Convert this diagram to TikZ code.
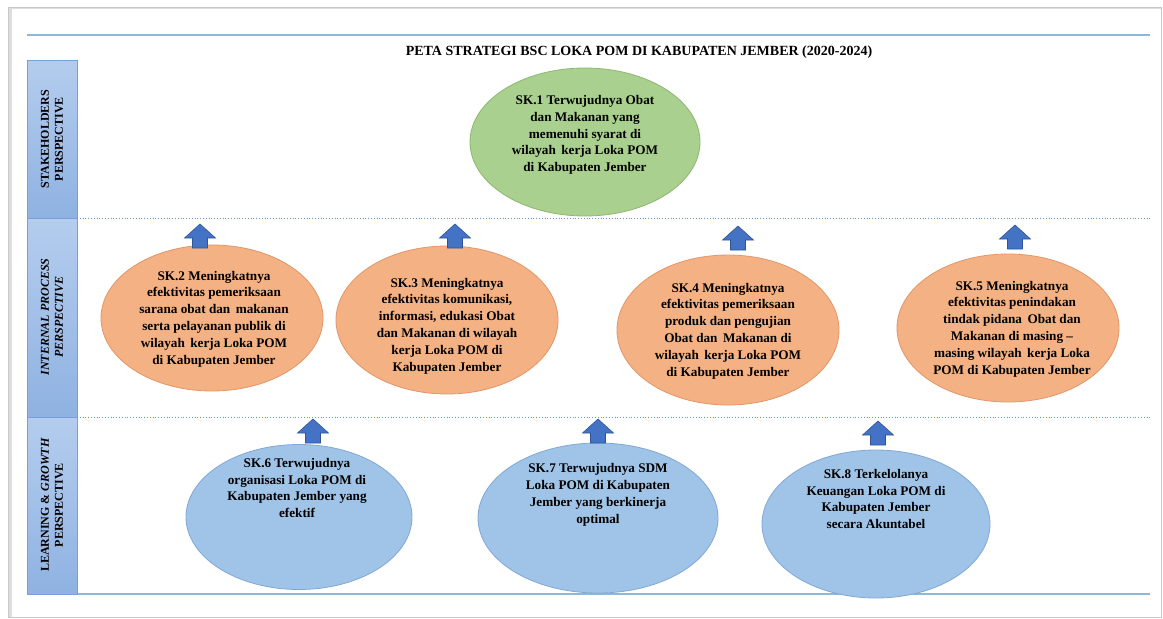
\documentclass[tikz,border=0pt]{standalone}
\usepackage{fontspec}
\setmainfont{Liberation Serif}
\usetikzlibrary{shapes.geometric,calc}
\definecolor{greenfill}{RGB}{169,208,142}
\definecolor{greenline}{RGB}{140,184,112}
\definecolor{orangefill}{RGB}{244,177,131}
\definecolor{orangeline}{RGB}{226,150,104}
\definecolor{bluefill}{RGB}{160,196,231}
\definecolor{blueline}{RGB}{128,168,214}
\definecolor{arrowfill}{RGB}{68,114,196}
\definecolor{arrowline}{RGB}{47,85,151}
\definecolor{bandtop}{RGB}{180,205,238}
\definecolor{bandbot}{RGB}{143,178,226}
\definecolor{bandline}{RGB}{120,160,215}
\definecolor{ruleblue}{RGB}{140,185,215}
\definecolor{dotblue}{RGB}{100,150,210}
\definecolor{framegray}{RGB}{200,200,200}
\tikzset{
  goalgreen/.style={ellipse, draw=greenline, fill=greenfill, line width=0.8pt, inner sep=0pt},
  goalorange/.style={ellipse, draw=orangeline, fill=orangefill, line width=0.8pt, inner sep=0pt},
  goalblue/.style={ellipse, draw=blueline, fill=bluefill, line width=0.8pt, inner sep=0pt},
  goaltext/.style={align=center, font=\bfseries\fontsize{13.2}{16.8}\selectfont, inner sep=0pt},
  bandlabel/.style={align=center, rotate=90, font=\bfseries\fontsize{12}{14}\selectfont, inner sep=0pt},
  bandcell/.style={draw=bandline, line width=0.6pt, top color=bandtop, bottom color=bandbot},
  blockup/.style={fill=arrowfill, draw=arrowline, line width=0.6pt, line join=miter},
  sectionrule/.style={dotblue, line width=0.8pt, dotted},
  mainrule/.style={ruleblue, line width=1.4pt}
}
\newcommand{\upblock}[1]{%
  \draw[blockup] ($(#1)+(-7.5,0)$) -- ($(#1)+(-7.5,-10)$) -- ($(#1)+(-15.5,-10)$) --
    ($(#1)+(0,-24)$) -- ($(#1)+(15.5,-10)$) -- ($(#1)+(7.5,-10)$) -- ($(#1)+(7.5,0)$) -- cycle;}
\begin{document}
\begin{tikzpicture}[x=1pt,y=-1pt]
\useasboundingbox (0,0) rectangle (1163,619);
\fill[white] (0,0) rectangle (1163,619);
% outer frame with soft shadow
\draw[framegray!60, line width=4pt] (10,9) -- (10,617);
\draw[framegray!60, line width=2pt] (8,8) -- (1161,8);
\draw[framegray, line width=1pt] (8,7) rectangle (1161,617);
% rules
\draw[mainrule] (27,35) -- (1150,35);
\draw[mainrule] (27,594) -- (1150,594);
\draw[sectionrule] (77,218) -- (1150,218);
\draw[sectionrule] (77,417) -- (1150,417);
% left band
\draw[bandcell] (27,60) rectangle (77,218);
\draw[bandcell] (27,218) rectangle (77,417);
\draw[bandcell] (27,417) rectangle (77,594);
\node[bandlabel] (b1) at (52,139) {STAKEHOLDERS\\PERSPECTIVE};
\node[bandlabel] (b2) at (52,317) {\itshape INTERNAL PROCESS\\\itshape PERSPECTIVE};
\node[bandlabel] (b3) at (52,505) {LEARNING \& \textit{GROWTH}\\PERSPECTIVE};
% title
\node[font=\bfseries\fontsize{14}{16}\selectfont, inner sep=0pt] (title) at (639,52)
  {PETA STRATEGI BSC LOKA POM DI KABUPATEN JEMBER (2020-2024)};
% ellipses
\node[goalgreen, minimum width=230pt, minimum height=148pt] (e1) at (585,142) {};
\node[goalorange, minimum width=222pt, minimum height=146pt] (e2) at (212,318) {};
\node[goalorange, minimum width=222pt, minimum height=148pt] (e3) at (447,320) {};
\node[goalorange, minimum width=222pt, minimum height=150pt] (e4) at (728,330) {};
\node[goalorange, minimum width=222pt, minimum height=148pt] (e5) at (1008,328) {};
\node[goalblue, minimum width=226pt, minimum height=145pt] (e6) at (299,517) {};
\node[goalblue, minimum width=240pt, minimum height=150pt] (e7) at (598,518) {};
\node[goalblue, minimum width=228pt, minimum height=148pt] (e8) at (876,524) {};
% texts
\node[goaltext] (t1) at (585,135) {SK.1 Terwujudnya Obat\\dan Makanan yang\\memenuhi syarat di\\wilayah\, kerja Loka POM\\di Kabupaten Jember};
\node[goaltext] (t2) at (214,319) {SK.2 Meningkatnya\\efektivitas pemeriksaan\\sarana obat dan\, makanan\\serta pelayanan publik di\\wilayah\, kerja Loka POM\\di Kabupaten Jember};
\node[goaltext] (t3) at (447,326) {SK.3 Meningkatnya\\efektivitas komunikasi,\\informasi, edukasi Obat\\dan Makanan di wilayah\\kerja Loka POM di\\Kabupaten Jember};
\node[goaltext] (t4) at (728,331) {SK.4 Meningkatnya\\efektivitas pemeriksaan\\produk dan pengujian\\Obat dan\, Makanan di\\wilayah\, kerja Loka POM\\di Kabupaten Jember};
\node[goaltext] (t5) at (1012,329) {SK.5 Meningkatnya\\efektivitas penindakan\\tindak pidana\, Obat dan\\Makanan di masing –\\masing wilayah\, kerja Loka\\POM di Kabupaten Jember};
\node[goaltext] (t6) at (297,488) {SK.6 Terwujudnya\\organisasi Loka POM di\\Kabupaten Jember yang\\efektif};
\node[goaltext] (t7) at (598,495) {SK.7 Terwujudnya SDM\\Loka POM di Kabupaten\\Jember yang berkinerja\\optimal};
\node[goaltext] (t8) at (876,499) {SK.8 Terkelolanya\\Keuangan Loka POM di\\Kabupaten Jember\\secara Akuntabel};
% block arrows
\coordinate (a1) at (200,248);
\coordinate (a2) at (455,248);
\coordinate (a3) at (738,250);
\coordinate (a4) at (1015,249);
\coordinate (a5) at (313,443);
\coordinate (a6) at (598,443);
\coordinate (a7) at (878,445);
\upblock{a1}\upblock{a2}\upblock{a3}\upblock{a4}\upblock{a5}\upblock{a6}\upblock{a7}
\end{tikzpicture}
\end{document}
